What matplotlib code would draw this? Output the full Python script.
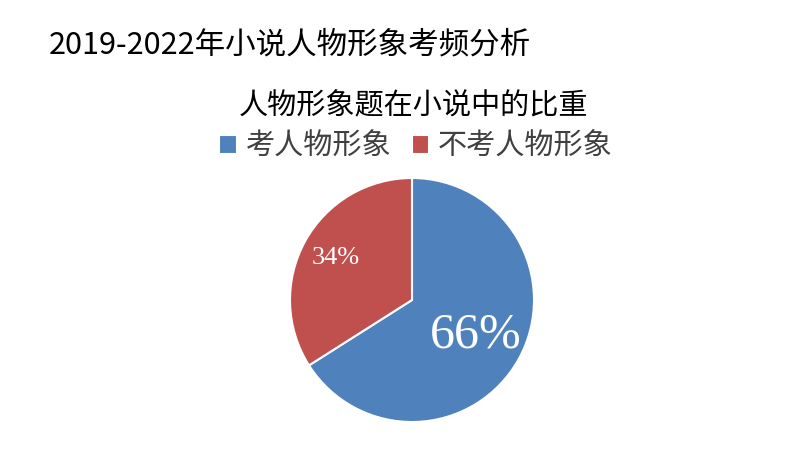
import numpy as np
import matplotlib
matplotlib.use('Agg')
import matplotlib.pyplot as plt

plt.rcParams['font.family'] = ['Noto Sans CJK SC', 'DejaVu Sans']

labels = ['考人物形象', '不考人物形象']
values = [66, 34]
colors = ['#4F81BD', '#C0504D']
pct_text = ['66%', '34%']

W, H = 794, 458
fig = plt.figure(figsize=(W / 100, H / 100), dpi=100)

# pie centre and radius in pixels
cx, cy, r = 412, 300, 122
ax = fig.add_axes([(cx - r) / W, (H - cy - r) / H, 2 * r / W, 2 * r / H])
wedges, _ = ax.pie(values, colors=colors, startangle=90, counterclock=False,
                   wedgeprops=dict(edgecolor='white', linewidth=1.5))
ax.set_xlim(-1, 1)
ax.set_ylim(-1, 1)
ax.set_aspect('equal')
ax.axis('off')

# percent labels inside the wedges
label_dist = [0.6, 0.71]
label_size = [36, 19]
for w, t, d, s in zip(wedges, pct_text, label_dist, label_size):
    ang = np.deg2rad((w.theta1 + w.theta2) / 2)
    ax.text(d * np.cos(ang), d * np.sin(ang), t, ha='center', va='center',
            color='white', fontsize=s, family=['Liberation Serif', 'DejaVu Serif'])

fig.text(49 / W, 1 - 45 / H, '2019-2022年小说人物形象考频分析',
         fontsize=22, ha='left', va='center', color='black')
fig.text(414 / W, 1 - 106 / H, '人物形象题在小说中的比重',
         fontsize=21, ha='center', va='center', color='black')

fig.legend(wedges, labels, loc='center', bbox_to_anchor=(416 / W, 1 - 147 / H),
           ncol=2, frameon=False, fontsize=21, handlelength=0.6, handleheight=0.6,
           handletextpad=0.3, columnspacing=0.7, labelcolor='#404040')

fig.savefig('out.png', dpi=100)
